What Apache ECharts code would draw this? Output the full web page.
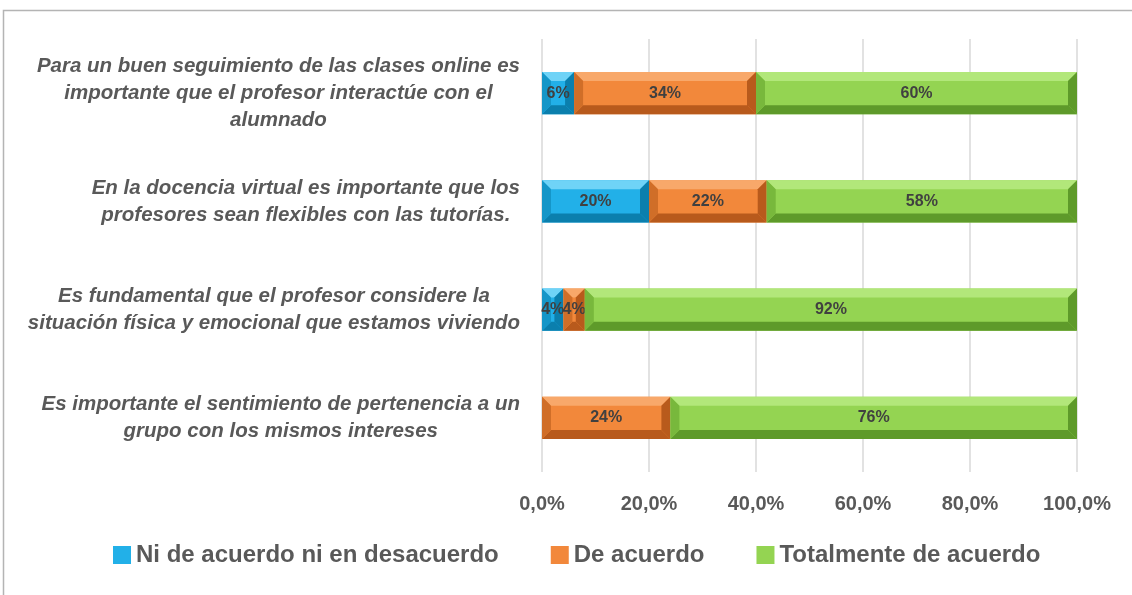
<!DOCTYPE html>
<html lang="es">
<head>
<meta charset="UTF-8">
<title>Encuesta docencia virtual</title>
<script src="https://cdn.jsdelivr.net/npm/echarts@6/dist/echarts.min.js"></script>
<style>
  html, body { margin: 0; padding: 0; background: #fff; }
  #chart { width: 1132px; height: 595px; }
</style>
</head>
<body>
<div id="chart"></div>
<script>
// categories, top to bottom
const categories = [
  'Para un buen seguimiento de las clases online es\nimportante que el profesor interactúe con el\nalumnado',
  'En la docencia virtual es importante que los\nprofesores sean flexibles con las tutorías.',
  'Es fundamental que el profesor considere la\nsituación física y emocional que estamos viviendo',
  'Es importante el sentimiento de pertenencia a un\ngrupo con los mismos intereses'
];
const seriesNames = ['Ni de acuerdo ni en desacuerdo', 'De acuerdo', 'Totalmente de acuerdo'];
const niVals = [6, 20, 4, 0];
const deVals = [34, 22, 4, 24];
const totVals = [60, 58, 92, 76];

// base / light / dark shades for the bevel look
const palettes = [
  { base: '#22B0E8', light: '#6FD3F7', dark: '#0B7FAD', side: '#1596C8' },
  { base: '#F2883B', light: '#F8A86A', dark: '#B85A1C', side: '#D06E28' },
  { base: '#94D452', light: '#B2E77A', dark: '#5E9A2A', side: '#78B83C' }
];

// stacked start/end for each series
const allVals = [niVals, deVals, totVals];
function stackData(k) {
  return allVals[k].map((v, i) => {
    let start = 0;
    for (let j = 0; j < k; j++) start += allVals[j][i];
    return [i, start, start + v, v];
  });
}

function bevelItem(pal) {
  return function (params, api) {
    const cat = api.value(0);
    const start = api.value(1);
    const end = api.value(2);
    const val = api.value(3);
    if (end - start <= 0) return null;
    const p0 = api.coord([start, cat]);
    const p1 = api.coord([end, cat]);
    const h = api.size([0, 1])[1] * 0.39;
    const x0 = p0[0], x1 = p1[0];
    const y0 = p0[1] - h / 2, y1 = p0[1] + h / 2;
    const b = Math.min(9, (x1 - x0) / 2, h / 2);
    return {
      type: 'group',
      children: [
        { type: 'rect', shape: { x: x0, y: y0, width: x1 - x0, height: h }, style: { fill: pal.base } },
        { type: 'polygon', shape: { points: [[x0, y0], [x1, y0], [x1 - b, y0 + b], [x0 + b, y0 + b]] }, style: { fill: pal.light } },
        { type: 'polygon', shape: { points: [[x0, y1], [x1, y1], [x1 - b, y1 - b], [x0 + b, y1 - b]] }, style: { fill: pal.dark } },
        { type: 'polygon', shape: { points: [[x0, y0], [x0 + b, y0 + b], [x0 + b, y1 - b], [x0, y1]] }, style: { fill: pal.side } },
        { type: 'polygon', shape: { points: [[x1, y0], [x1 - b, y0 + b], [x1 - b, y1 - b], [x1, y1]] }, style: { fill: pal.dark } },
        {
          type: 'text',
          style: {
            text: val + '%', x: (x0 + x1) / 2, y: p0[1],
            align: 'center', verticalAlign: 'middle',
            fill: '#404040', font: 'bold 16px "Liberation Sans"'
          }
        }
      ]
    };
  };
}

const chart = echarts.init(document.getElementById('chart'));
chart.setOption({
  animation: false,
  textStyle: { fontFamily: 'Liberation Sans' },
  graphic: [{
    type: 'rect', silent: true,
    shape: { x: 3.5, y: 10.5, width: 1200, height: 700 },
    style: { fill: 'none', stroke: '#b4b4b4', lineWidth: 1.5 }
  }],
  grid: { left: 542, right: 55, top: 39, bottom: 123 },
  legend: {
    bottom: 23, left: 108,
    itemWidth: 18, itemHeight: 18, itemGap: 52,
    icon: 'rect',
    textStyle: { fontSize: 24, fontWeight: 'bold', color: '#595959' },
    data: seriesNames
  },
  xAxis: {
    type: 'value', min: 0, max: 100, interval: 20,
    axisLine: { show: false }, axisTick: { show: false },
    splitLine: { lineStyle: { color: '#d9d9d9', width: 1.5 } },
    axisLabel: {
      margin: 22, color: '#595959', fontSize: 20, fontWeight: 'bold',
      formatter: v => v + ',0%'
    }
  },
  yAxis: {
    type: 'category', inverse: true, data: categories,
    axisLine: { show: false }, axisTick: { show: false },
    axisLabel: {
      margin: 22, align: 'right',
      formatter: v => v.split('\n').map(l => '{c|' + l + '}').join('\n'),
      rich: {
        c: {
          align: 'center', fontSize: 20.5, fontStyle: 'italic', fontWeight: 'bold',
          color: '#595959', lineHeight: 27, fontFamily: 'Liberation Sans'
        }
      }
    }
  },
  series: seriesNames.map((name, k) => ({
    name: name,
    type: 'custom',
    renderItem: bevelItem(palettes[k]),
    itemStyle: { color: palettes[k].base },
    encode: { x: [1, 2], y: 0 },
    data: stackData(k)
  }))
});
</script>
</body>
</html>
